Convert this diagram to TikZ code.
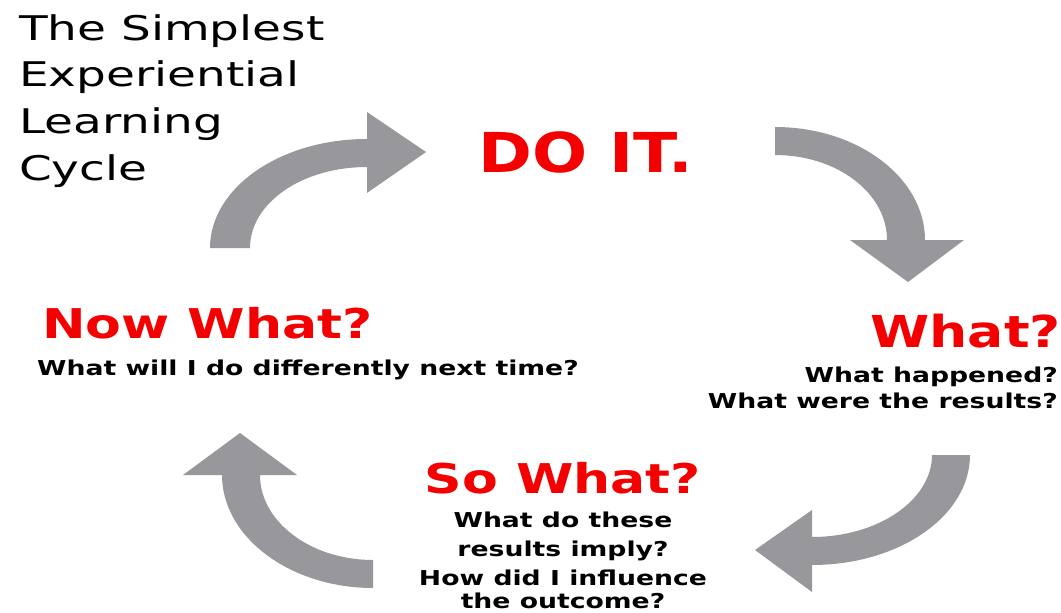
\documentclass[tikz,border=0pt]{standalone}
\usepackage{fontspec}
\newfontfamily\titlefont[FakeStretch=1.38]{DejaVu Sans}
\newfontfamily\headfont[FakeStretch=1.27]{DejaVu Sans}
\newfontfamily\whatfont[FakeStretch=1.22]{DejaVu Sans}
\newfontfamily\doitfont[FakeStretch=1.18]{DejaVu Sans}
\newfontfamily\subfont[FakeStretch=1.3]{DejaVu Sans}
\definecolor{arrowgray}{RGB}{152,151,156}
\definecolor{cyclered}{RGB}{245,0,0}
\tikzset{
  titleline/.style={anchor=base west, inner sep=0pt, font=\titlefont\fontsize{34}{40}\selectfont},
  headline/.style={inner sep=0pt, text=cyclered, font=\headfont\bfseries\fontsize{41}{48}\selectfont},
  subline/.style={inner sep=0pt, font=\subfont\bfseries\fontsize{20.5}{24}\selectfont},
  cyclearrow/.style={fill=arrowgray, draw=none}
}
\begin{document}
\begin{tikzpicture}[x=1pt, y=-1pt]
\useasboundingbox (0,0) rectangle (1061,613);
\fill[white] (0,0) rectangle (1061,613);

% title
\node[titleline] (t1) at (19,40) {The Simplest};
\node[titleline] (t2) at (19,86.7) {Experiential};
\node[titleline] (t3) at (19,133.3) {Learning};
\node[titleline] (t4) at (19,180) {Cycle};

% stages
\node[headline, anchor=base west, font=\doitfont\bfseries\fontsize{55}{60}\selectfont] (doit) at (478,172) {DO IT.};

\node[headline, anchor=base east, font=\whatfont\bfseries\fontsize{44}{50}\selectfont] (what) at (1061,347) {What?};
\node[subline, anchor=base east] (what1) at (1058,382) {What happened?};
\node[subline, anchor=base east] (what2) at (1058,408) {What were the results?};

\node[headline, anchor=base] (so) at (563,493) {So What?};
\node[subline, anchor=base] (so1) at (563,527) {What do these};
\node[subline, anchor=base] (so2) at (563,556) {results imply?};
\node[subline, anchor=base] (so3) at (563,585) {How did I influence};
\node[subline, anchor=base] (so4) at (563,608) {the outcome?};

\node[headline, anchor=base west] (now) at (42,338) {Now What?};
\node[subline, anchor=base west] (now1) at (37,375) {What will I do differently next time?};

% arrows
% top-left: towards DO IT.
\fill[cyclearrow] (210,248) .. controls (210,188) and (280,139) .. (367,139)
  -- (367,112) -- (426,152) -- (367,193) -- (367,167)
  .. controls (302,167) and (250,203) .. (250,248) -- cycle;
% top-right: towards What?
\fill[cyclearrow] (775,127) .. controls (858,127) and (925,178) .. (925,240)
  -- (964,240) -- (908,282) -- (850,240) -- (887,240)
  .. controls (887,193) and (837,155) .. (775,155) -- cycle;
% bottom-right: towards So What?
\fill[cyclearrow] (970,455) .. controls (970,516) and (899,565) .. (812,565)
  -- (812,592) -- (755,550) -- (812,510) -- (812,537)
  .. controls (878,537) and (932,500) .. (932,455) -- cycle;
% bottom-left: towards Now What?
\fill[cyclearrow] (373,588) .. controls (290,588) and (222,537) .. (222,475)
  -- (183,475) -- (240,433) -- (297,475) -- (260,475)
  .. controls (260,522) and (311,560) .. (373,560) -- cycle;
\end{tikzpicture}
\end{document}
